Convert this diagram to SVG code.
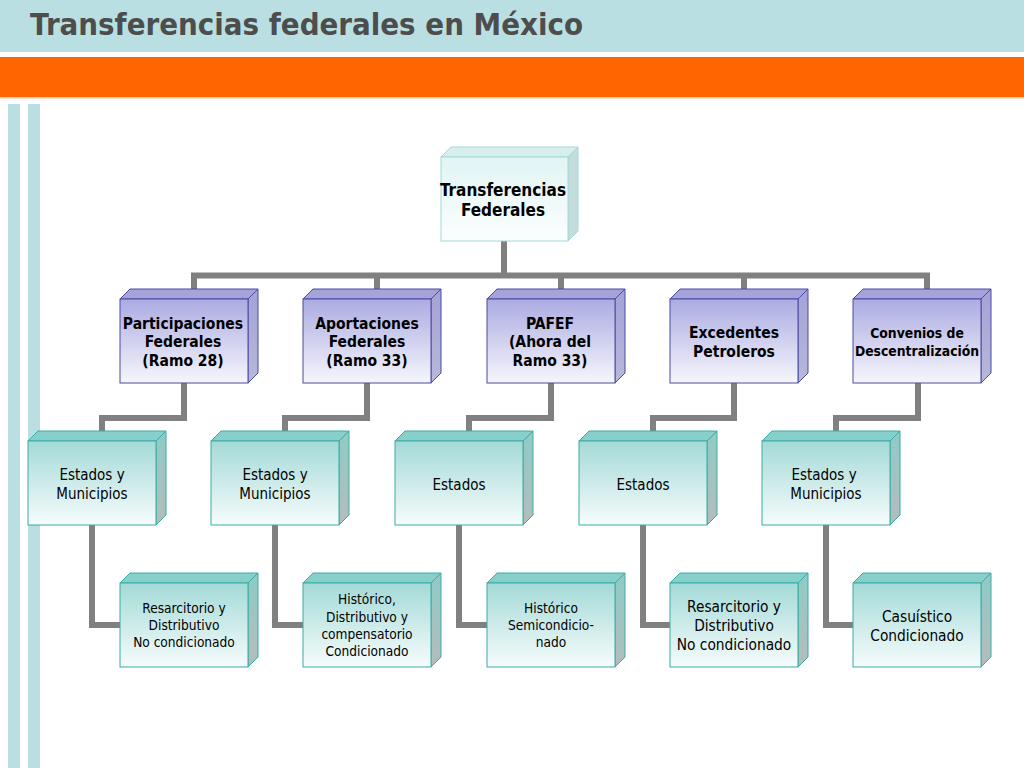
<svg xmlns="http://www.w3.org/2000/svg" width="1024" height="768" viewBox="0 0 1024 768">
<defs>
<linearGradient id="gTop" x1="0" y1="0" x2="0" y2="1"><stop offset="0" stop-color="#e2f4f4"/><stop offset="1" stop-color="#fbfefe"/></linearGradient>
<linearGradient id="gPur" x1="0" y1="0" x2="0" y2="1"><stop offset="0" stop-color="#ababe2"/><stop offset="1" stop-color="#f6f6fc"/></linearGradient>
<linearGradient id="gPurR" x1="0" y1="0" x2="0" y2="1"><stop offset="0" stop-color="#a2a2d8"/><stop offset="1" stop-color="#b8b8da"/></linearGradient>
<linearGradient id="gTeal" x1="0" y1="0" x2="0" y2="1"><stop offset="0" stop-color="#a3dad7"/><stop offset="1" stop-color="#f6fcfc"/></linearGradient>
<linearGradient id="gTealR" x1="0" y1="0" x2="0" y2="1"><stop offset="0" stop-color="#8ecbc7"/><stop offset="1" stop-color="#b4bcbc"/></linearGradient>
<style>
.conn{fill:none;stroke:#808080;stroke-width:6;stroke-linejoin:miter}
.tf{fill:url(#gTop);stroke:#a6d8d8;stroke-width:1}
.tt{fill:#d6eeee;stroke:#a6d8d8;stroke-width:1}
.tr{fill:#c4dcdc;stroke:#a6d8d8;stroke-width:1}
.pf{fill:url(#gPur);stroke:#4a4aa2;stroke-width:1}
.pt{fill:#a4a4da;stroke:#4a4aa2;stroke-width:1}
.pr{fill:url(#gPurR);stroke:#4a4aa2;stroke-width:1}
.cf{fill:url(#gTeal);stroke:#3aaca4;stroke-width:1}
.ct{fill:#86cfca;stroke:#3aaca4;stroke-width:1}
.cr{fill:url(#gTealR);stroke:#3aaca4;stroke-width:1}
text{font-family:"DejaVu Sans Condensed","DejaVu Sans",sans-serif;text-anchor:middle;fill:#000}
.b{font-weight:bold;font-size:15.5px}
.r{font-size:15px}
.s{font-size:13.6px}
.m{font-size:15.3px}
</style>
</defs>
<rect x="0" y="0" width="1024" height="768" fill="#ffffff"/>
<rect x="0" y="0" width="1024" height="52" fill="#b9dfe2"/>
<rect x="0" y="57" width="1024" height="40" fill="#ff6600"/>
<rect x="0" y="97" width="1024" height="1.5" fill="#ffc8a0"/>
<rect x="8" y="104" width="12" height="664" fill="#b9dfe2"/>
<rect x="28" y="104" width="12" height="664" fill="#b9dfe2"/>
<text x="30" y="35" style="font-family:'DejaVu Sans',sans-serif;font-size:30px;font-weight:bold;fill:#4d4d4d;text-anchor:start" textLength="553" lengthAdjust="spacingAndGlyphs">Transferencias federales en México</text>

<g id="connectors">
<path class="conn" d="M504,241 V275.5"/>
<path class="conn" d="M191,275.5 H930"/>
<path class="conn" d="M194,275 V289 M377,275 V289 M561,275 V289 M744,275 V289 M927,275 V289"/>
<path class="conn" d="M184,383 V418 H102 V432"/>
<path class="conn" d="M367,383 V418 H285 V432"/>
<path class="conn" d="M551,383 V418 H469 V432"/>
<path class="conn" d="M734,383 V418 H653 V432"/>
<path class="conn" d="M918,383 V418 H836 V432"/>
<path class="conn" d="M92,525 V625 H120"/>
<path class="conn" d="M275,525 V625 H303"/>
<path class="conn" d="M459,525 V625 H487"/>
<path class="conn" d="M643,525 V625 H670"/>
<path class="conn" d="M826,525 V625 H853"/>
</g>

<g id="n-transferencias">
<polygon class="tt" points="441,157 451,147 578,147 568,157"/>
<polygon class="tr" points="568,157 578,147 578,231 568,241"/>
<rect class="tf" x="441" y="157" width="127" height="84"/>
<text class="b" x="503" y="196" style="font-size:17px">Transferencias</text>
<text class="b" x="503" y="216" style="font-size:17px">Federales</text>
</g>

<g id="n-participaciones">
<polygon class="pt" points="120,299 130,289 258,289 248,299"/>
<polygon class="pr" points="248,299 258,289 258,373 248,383"/>
<rect class="pf" x="120" y="299" width="128" height="84"/>
<text class="b" x="183" y="329">Participaciones</text>
<text class="b" x="183" y="347">Federales</text>
<text class="b" x="183" y="366">(Ramo 28)</text>
</g>
<g id="n-aportaciones">
<polygon class="pt" points="303,299 313,289 441,289 431,299"/>
<polygon class="pr" points="431,299 441,289 441,373 431,383"/>
<rect class="pf" x="303" y="299" width="128" height="84"/>
<text class="b" x="367" y="329">Aportaciones</text>
<text class="b" x="367" y="347">Federales</text>
<text class="b" x="367" y="366">(Ramo 33)</text>
</g>
<g id="n-pafef">
<polygon class="pt" points="487,299 497,289 625,289 615,299"/>
<polygon class="pr" points="615,299 625,289 625,373 615,383"/>
<rect class="pf" x="487" y="299" width="128" height="84"/>
<text class="b" x="550" y="329">PAFEF</text>
<text class="b" x="550" y="347">(Ahora del</text>
<text class="b" x="550" y="366">Ramo 33)</text>
</g>
<g id="n-excedentes">
<polygon class="pt" points="670,299 680,289 808,289 798,299"/>
<polygon class="pr" points="798,299 808,289 808,373 798,383"/>
<rect class="pf" x="670" y="299" width="128" height="84"/>
<text class="b" x="734" y="338">Excedentes</text>
<text class="b" x="734" y="357">Petroleros</text>
</g>
<g id="n-convenios">
<polygon class="pt" points="853,299 863,289 991,289 981,299"/>
<polygon class="pr" points="981,299 991,289 991,373 981,383"/>
<rect class="pf" x="853" y="299" width="128" height="84"/>
<text class="b" x="917" y="338" style="font-size:13.8px">Convenios de</text>
<text class="b" x="917" y="356" style="font-size:13.8px">Descentralización</text>
</g>

<g id="n-edomun1">
<polygon class="ct" points="28,441 38,431 166,431 156,441"/>
<polygon class="cr" points="156,441 166,431 166,515 156,525"/>
<rect class="cf" x="28" y="441" width="128" height="84"/>
<text class="r" x="92" y="480">Estados y</text>
<text class="r" x="92" y="499">Municipios</text>
</g>
<g id="n-edomun2">
<polygon class="ct" points="211,441 221,431 349,431 339,441"/>
<polygon class="cr" points="339,441 349,431 349,515 339,525"/>
<rect class="cf" x="211" y="441" width="128" height="84"/>
<text class="r" x="275" y="480">Estados y</text>
<text class="r" x="275" y="499">Municipios</text>
</g>
<g id="n-estados3">
<polygon class="ct" points="395,441 405,431 533,431 523,441"/>
<polygon class="cr" points="523,441 533,431 533,515 523,525"/>
<rect class="cf" x="395" y="441" width="128" height="84"/>
<text class="r" x="459" y="490">Estados</text>
</g>
<g id="n-estados4">
<polygon class="ct" points="579,441 589,431 717,431 707,441"/>
<polygon class="cr" points="707,441 717,431 717,515 707,525"/>
<rect class="cf" x="579" y="441" width="128" height="84"/>
<text class="r" x="643" y="490">Estados</text>
</g>
<g id="n-edomun5">
<polygon class="ct" points="762,441 772,431 900,431 890,441"/>
<polygon class="cr" points="890,441 900,431 900,515 890,525"/>
<rect class="cf" x="762" y="441" width="128" height="84"/>
<text class="r" x="824" y="480">Estados y</text>
<text class="r" x="826" y="499">Municipios</text>
</g>

<g id="n-resarcitorio1">
<polygon class="ct" points="120,583 130,573 258,573 248,583"/>
<polygon class="cr" points="248,583 258,573 258,657 248,667"/>
<rect class="cf" x="120" y="583" width="128" height="84"/>
<text class="s" x="184" y="613">Resarcitorio y</text>
<text class="s" x="184" y="630">Distributivo</text>
<text class="s" x="184" y="647">No condicionado</text>
</g>
<g id="n-historico2">
<polygon class="ct" points="303,583 313,573 441,573 431,583"/>
<polygon class="cr" points="431,583 441,573 441,657 431,667"/>
<rect class="cf" x="303" y="583" width="128" height="84"/>
<text class="s" x="367" y="604">Histórico,</text>
<text class="s" x="367" y="622">Distributivo y</text>
<text class="s" x="367" y="639">compensatorio</text>
<text class="s" x="367" y="656">Condicionado</text>
</g>
<g id="n-historico3">
<polygon class="ct" points="487,583 497,573 625,573 615,583"/>
<polygon class="cr" points="615,583 625,573 625,657 615,667"/>
<rect class="cf" x="487" y="583" width="128" height="84"/>
<text class="s" x="551" y="613">Histórico</text>
<text class="s" x="551" y="630">Semicondicio-</text>
<text class="s" x="551" y="647">nado</text>
</g>
<g id="n-resarcitorio4">
<polygon class="ct" points="670,583 680,573 808,573 798,583"/>
<polygon class="cr" points="798,583 808,573 808,657 798,667"/>
<rect class="cf" x="670" y="583" width="128" height="84"/>
<text class="m" x="734" y="612">Resarcitorio y</text>
<text class="m" x="734" y="631">Distributivo</text>
<text class="m" x="734" y="650">No condicionado</text>
</g>
<g id="n-casuistico5">
<polygon class="ct" points="853,583 863,573 991,573 981,583"/>
<polygon class="cr" points="981,583 991,573 991,657 981,667"/>
<rect class="cf" x="853" y="583" width="128" height="84"/>
<text class="m" x="917" y="622">Casuístico</text>
<text class="m" x="917" y="641">Condicionado</text>
</g>
</svg>
